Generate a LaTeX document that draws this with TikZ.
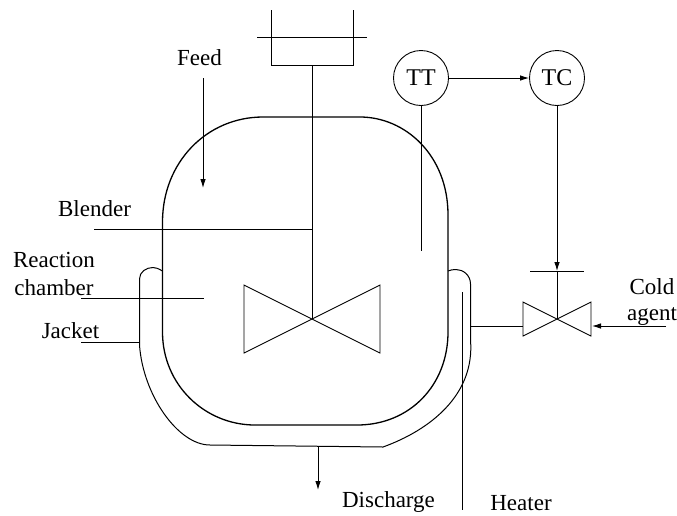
\documentclass[tikz,border=0pt]{standalone}
\usepackage{fontspec}
\setmainfont{Liberation Serif}
\usetikzlibrary{arrows.meta}
\tikzset{
  lbl/.style={inner sep=0pt,font=\fontsize{23}{23}\selectfont},
  inst/.style={draw,circle,minimum size=55pt,inner sep=0pt,line width=0.9pt,font=\fontsize{24}{24}\selectfont},
  pipe/.style={line width=0.9pt},
  wall/.style={line width=1.3pt},
  jacketline/.style={line width=1pt},
  flow/.style={pipe,-{Latex[length=9pt,width=5.5pt]}},
}
\begin{document}
\begin{tikzpicture}[x=1pt,y=-1pt]
\useasboundingbox (0,0) rectangle (677,515);
% named points
\coordinate (boxTL) at (271,10); \coordinate (boxBL) at (271,65);
\coordinate (boxBR) at (353,65); \coordinate (boxTR) at (353,10);
\coordinate (barL) at (257,37); \coordinate (barR) at (367,37);
\coordinate (hub) at (312,319); \coordinate (shaftTop) at (312,65);
\coordinate (blA) at (244,285); \coordinate (blB) at (244,353);
\coordinate (brA) at (380,285); \coordinate (brB) at (380,353);
\coordinate (vc) at (557,319);
\coordinate (vlA) at (523,302); \coordinate (vlB) at (523,336);
\coordinate (vrA) at (591,302); \coordinate (vrB) at (591,336);
\coordinate (stemL) at (530,271); \coordinate (stemR) at (584,271);
\coordinate (stemArrow) at (557,271);
\coordinate (ttEnd) at (421,251);
\coordinate (feedA) at (203,78); \coordinate (feedB) at (203,188);
\coordinate (blenderA) at (94,229.5); \coordinate (blenderB) at (312,229.5);
\coordinate (reactA) at (81,298); \coordinate (reactB) at (204,298);
\coordinate (jackA) at (81,342); \coordinate (jackB) at (139.5,342);
\coordinate (dischA) at (318,446); \coordinate (dischB) at (318,490);
\coordinate (heatA) at (462,292); \coordinate (heatB) at (462,510);
\coordinate (hotA) at (470.5,326); \coordinate (hotB) at (523,326);
\coordinate (coldA) at (666,326); \coordinate (coldB) at (592,326);
% vessel
\draw[wall] (263,117) -- (360,117)
  .. controls (405,117) and (448,155) .. (448,215)
  -- (448,332)
  .. controls (448,385) and (410,425) .. (357,425)
  -- (255,425)
  .. controls (205,425) and (162.5,385) .. (162.5,332)
  -- (162.5,222)
  .. controls (162.5,162) and (207,117) .. (263,117) -- cycle;
% jacket
\draw[jacketline] (162.5,271) .. controls (158,268.5) and (156,267.5) .. (153,267.5)
  .. controls (146,267.5) and (139.5,272) .. (139.5,279)
  -- (139.5,345)
  .. controls (143,395) and (178,445) .. (210,445)
  -- (383,447)
  .. controls (430,430) and (475,395) .. (470.5,340)
  -- (470.5,284)
  .. controls (470.5,275) and (463,269.5) .. (456,269.5)
  .. controls (453,269.5) and (450,270) .. (448,271);
% agitator drive
\draw[pipe] (boxTL) -- (boxBL) -- (boxBR) -- (boxTR);
\draw[pipe] (barL) -- (barR);
\draw[pipe] (shaftTop) -- (hub);
% impeller
\draw[pipe] (hub) -- (blA) -- (blB) -- (brA) -- (brB) -- cycle;
% instruments
\node[inst] (TT) at (421,78) {TT};
\node[inst] (TC) at (557,78) {TC};
\draw[flow] (TT) -- (TC);
\draw[pipe] (TT) -- (ttEnd);
\draw[flow] (TC) -- (stemArrow);
\draw[pipe] (stemArrow) -- (vc);
\draw[pipe] (stemL) -- (stemR);
% control valve
\draw[pipe] (vc) -- (vlA) -- (vlB) -- (vrA) -- (vrB) -- cycle;
\draw[pipe] (hotA) -- (hotB);
\draw[flow] (coldA) -- (coldB);
% leader lines and flows
\draw[flow] (feedA) -- (feedB);
\draw[pipe] (blenderA) -- (blenderB);
\draw[pipe] (reactA) -- (reactB);
\draw[pipe] (jackA) -- (jackB);
\draw[flow] (dischA) -- (dischB);
\draw[pipe] (heatA) -- (heatB);
% labels
\node[lbl] (feedL) at (199.5,58) {Feed};
\node[lbl] (blenderL) at (94.5,209) {Blender};
\node[lbl] (reactL) at (54,260) {Reaction};
\node[lbl] (chamberL) at (54,288) {chamber};
\node[lbl] (jacketL) at (70.5,331) {Jacket};
\node[lbl] (coldL) at (652,287) {Cold};
\node[lbl] (agentL) at (652,316) {agent};
\node[lbl] (dischL) at (388.5,502) {Discharge};
\node[lbl] (heaterL) at (521,503) {Heater};
\end{tikzpicture}
\end{document}
